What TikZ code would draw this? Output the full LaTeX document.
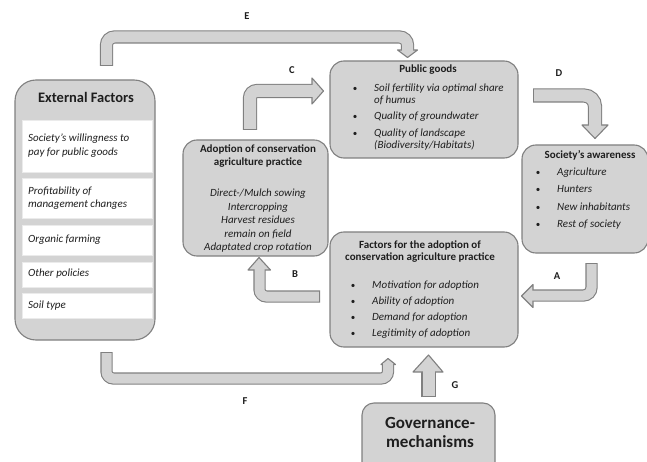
\documentclass[tikz,border=0pt]{standalone}
\usepackage{fontspec}
\setmainfont{Carlito}
\definecolor{boxgray}{RGB}{211,211,211}
\definecolor{edgegray}{RGB}{128,128,128}
\definecolor{txt}{RGB}{30,30,30}
\newcommand{\blockarrow}[4]{%
  \draw[line width=#2+2.2pt, edgegray, rounded corners=#1] #3;
  \filldraw[fill=boxgray, draw=edgegray, line width=1.1pt, line join=round] #4 -- cycle;
  \draw[line width=#2, boxgray, rounded corners=#1, shorten <=1.1pt, shorten >=-1.5pt] #3;
}
\begin{document}
\begin{tikzpicture}[x=1pt,y=-1pt,
  box/.style={draw=edgegray, fill=boxgray, line width=1.1pt, rounded corners=14pt},
  t/.style={inner sep=0pt, text height=8pt, text depth=2.4pt, font=\fontsize{11}{13}\selectfont\itshape, text=txt},
  tb/.style={inner sep=0pt, text height=8pt, text depth=2.4pt, font=\fontsize{11}{13}\selectfont\bfseries, text=txt},
  lab/.style={inner sep=0pt, font=\fontsize{10.5}{12}\selectfont\bfseries, text=txt},
  bul/.style={inner sep=0pt, font=\fontsize{9}{10}\selectfont, text=txt},
  wbox/.style={fill=white, draw=white!92!black, line width=0.6pt}
]
\useasboundingbox[fill=white] (0,0) rectangle (647,462);

% ---------- boxes ----------
\draw[box, rounded corners=21pt] (15,80) rectangle (155,340);
\node[inner sep=0pt, font=\fontsize{14.5}{17}\selectfont\bfseries, text=txt] (ext) at (86,97) {External Factors};
\draw[wbox] (22,120) rectangle (152,172);
\draw[wbox] (22,178) rectangle (152,218);
\draw[wbox] (22,225) rectangle (152,255);
\draw[wbox] (22,262) rectangle (152,287);
\draw[wbox] (22,293) rectangle (152,318);
\node[t, anchor=west] (e1a) at (28,139) {Society’s willingness to};
\node[t, anchor=west] (e1b) at (28,153) {pay for public goods};
\node[t, anchor=west] (e2a) at (28,192) {Profitability of};
\node[t, anchor=west] (e2b) at (28,205) {management changes};
\node[t, anchor=west] (e3) at (28,240) {Organic farming};
\node[t, anchor=west] (e4) at (28,274) {Other policies};
\node[t, anchor=west] (e5) at (28,306) {Soil type};

% Adoption box
\draw[box] (183,140) rectangle (328,256);
\node[tb] (ad1) at (258,150) {Adoption of conservation};
\node[tb] (ad2) at (258,163) {agriculture practice};
\node[t] (ad3) at (258,194) {Direct-/Mulch sowing};
\node[t] (ad4) at (258,208) {Intercropping};
\node[t] (ad5) at (258,221) {Harvest residues};
\node[t] (ad6) at (258,235) {remain on field};
\node[t] (ad7) at (258,248) {Adaptated crop rotation};

% Public goods
\draw[box] (330,61) rectangle (518,158);
\node[tb] (pg) at (428,70) {Public goods};
\node[bul] (pb1) at (355,89) {•};
\node[bul] (pb2) at (355,117) {•};
\node[bul] (pb3) at (355,134) {•};
\node[t, anchor=west] (pg1) at (374,89) {Soil fertility via optimal share};
\node[t, anchor=west] (pg2) at (374,101) {of humus};
\node[t, anchor=west] (pg3) at (374,117) {Quality of groundwater};
\node[t, anchor=west] (pg4) at (374,134) {Quality of landscape};
\node[t, anchor=west] (pg5) at (374,146) {(Biodiversity/Habitats)};

% Society's awareness
\draw[box] (522,145) rectangle (648,253);
\node[tb] (sa) at (590,156) {Society’s awareness};
\node[bul] (sb1) at (538,173) {•};
\node[bul] (sb2) at (538,190) {•};
\node[bul] (sb3) at (538,208) {•};
\node[bul] (sb4) at (538,225) {•};
\node[t, anchor=west] (sa1) at (557,173) {Agriculture};
\node[t, anchor=west] (sa2) at (557,190) {Hunters};
\node[t, anchor=west] (sa3) at (557,208) {New inhabitants};
\node[t, anchor=west] (sa4) at (557,225) {Rest of society};

% Factors
\draw[box] (330,232) rectangle (518,347);
\node[tb] (fa1) at (420,246) {Factors for the adoption of};
\node[tb] (fa2) at (420,258) {conservation agriculture practice};
\node[bul] (fb1) at (353,286) {•};
\node[bul] (fb2) at (353,302) {•};
\node[bul] (fb3) at (353,318) {•};
\node[bul] (fb4) at (353,334) {•};
\node[t, anchor=west] (f1) at (372,286) {Motivation for adoption};
\node[t, anchor=west] (f2) at (372,302) {Ability of adoption};
\node[t, anchor=west] (f3) at (372,318) {Demand for adoption};
\node[t, anchor=west] (f4) at (372,334) {Legitimity of adoption};

% Governance
\draw[box, rounded corners=12pt] (362,403) rectangle (495,475);
\node[inner sep=0pt, font=\fontsize{17}{18}\selectfont\bfseries, text=txt] (gv1) at (430,423) {Governance-};
\node[inner sep=0pt, font=\fontsize{17}{18}\selectfont\bfseries, text=txt] (gv2) at (430,442) {mechanisms};

% ---------- block arrows ----------
% E
\blockarrow{8pt}{11pt}{(106.5,66) -- (106.5,37) -- (407.5,37) -- (407.5,50)}{(397.5,50) -- (407.5,57.5) -- (417.5,50)}
% C
\blockarrow{7pt}{12pt}{(250,130) -- (250,91) -- (312,91)}{(312,78) -- (323.5,91) -- (312,104)}
% D
\blockarrow{11pt}{12pt}{(533,95.5) -- (595,95.5) -- (595,125)}{(582,125) -- (595,138.5) -- (608,125)}
% A
\blockarrow{8pt}{10pt}{(591.5,263) -- (591.5,295.5) -- (533,295.5)}{(533,284.5) -- (521.5,296) -- (533,307.5)}
% B
\blockarrow{7pt}{10pt}{(320,296.5) -- (259.5,296.5) -- (259.5,270)}{(248,270) -- (259,257.5) -- (270.5,270)}
% F
\blockarrow{7pt}{10pt}{(106.5,352) -- (106.5,378.5) -- (388,378.5) -- (388,364.5)}{(381,364.5) -- (388,358.5) -- (395.5,364.5)}
% G
\blockarrow{0pt}{12pt}{(428.5,397) -- (428.5,372)}{(413,372) -- (428.5,355) -- (443,372)}

% ---------- labels ----------
\node[lab] (lE) at (247,16) {E};
\node[lab] (lC) at (292,70) {C};
\node[lab] (lD) at (559,73) {D};
\node[lab] (lA) at (557,276) {A};
\node[lab] (lB) at (295,274) {B};
\node[lab] (lF) at (245,401) {F};
\node[lab] (lG) at (455,385) {G};
\end{tikzpicture}
\end{document}
